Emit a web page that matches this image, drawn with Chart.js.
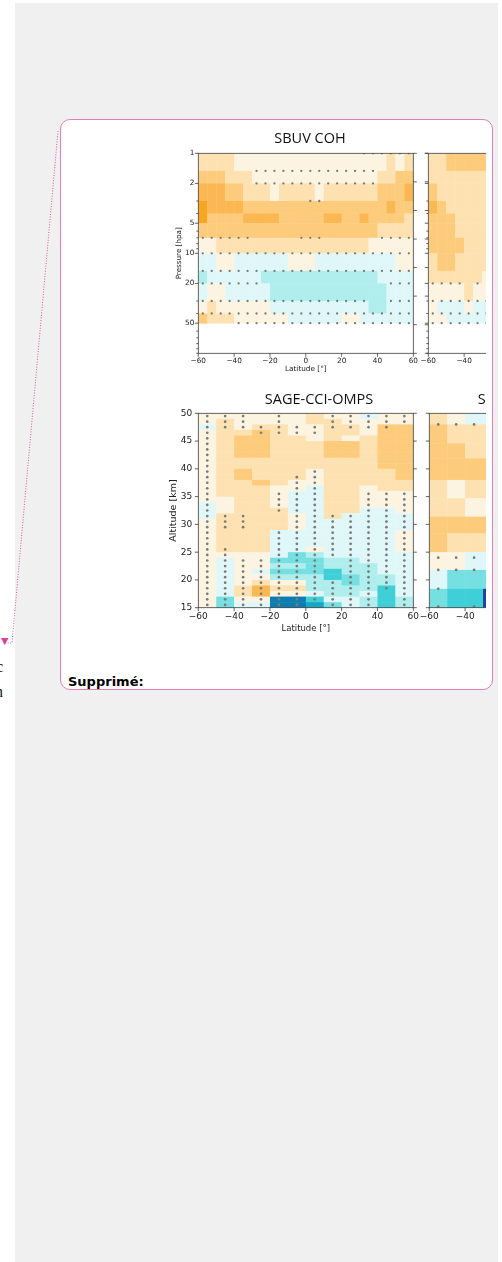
<!DOCTYPE html>
<html lang="fr">
<head>
<meta charset="utf-8">
<script src="https://cdn.jsdelivr.net/npm/chart.js@4.4.1/dist/chart.umd.min.js"></script>
<style>
  html, body { margin:0; padding:0; background:#fff; }
  body { width:502px; height:1262px; position:relative; overflow:hidden; }
  #sheet { position:absolute; left:15px; top:3px; width:483px; height:1259px; background:#f0f0f0; }
  #link { position:absolute; left:0; top:0; }
  .frag { position:absolute; font:16px/16px 'Liberation Serif', serif; color:#111; }
  #note { position:absolute; left:60px; top:119px; width:433px; height:571px; box-sizing:border-box;
          border:1px solid #e67cb8; border-radius:10px; background:#fff; overflow:hidden; }
  #figure { position:absolute; left:0; top:0; width:425px; height:540px; overflow:hidden; }
  #figure canvas { position:absolute; }
  #label { position:absolute; left:7px; top:555px; font:bold 13px/13px 'DejaVu Sans', sans-serif; color:#000; white-space:nowrap; }
</style>
</head>
<body>
<div id="sheet"></div>
<svg id="link" width="502" height="700">
  <polyline points="58,131 12,643 3,643" fill="none" stroke="#e0559f" stroke-width="1" stroke-dasharray="1 1.6"/>
  <polygon points="1,638 8.5,638 4.7,645" fill="#d8439a"/>
</svg>
<span class="frag" style="left:-4px;top:659px">c</span>
<span class="frag" style="left:-5px;top:684px">n</span>
<div id="note">
  <div id="figure">
    <canvas id="sbuv" width="300" height="252" style="left:99px;top:5px"></canvas>
    <canvas id="sbuvRight" width="250" height="252" style="left:344px;top:5px"></canvas>
    <canvas id="sage" width="318" height="255" style="left:99px;top:265px"></canvas>
    <canvas id="sageRight" width="254" height="255" style="left:344px;top:265px"></canvas>
  </div>
  <div id="label">Supprimé:</div>
</div>
<script>
// ---------- shared axes ----------
const latTicks = [-60, -40, -20, 0, 20, 40, 60];
const pressureTicks = [1, 2, 5, 10, 20, 50];
const pressureMinorTicks = [3, 4, 6, 7, 8, 9, 30, 40, 60, 70, 80, 90, 100];
const altitudeTicksHpa = [1, 1.93, 3.73, 7.2, 13.9, 26.8, 51.8, 100];
const altitudeTicks = [15, 20, 25, 30, 35, 40, 45, 50];

// ---------- SBUV COH: trend per pressure layer (rows) and 5° latitude bin (columns), %/decade ----------
const sbuvLatEdges = [-60,-55,-50,-45,-40,-35,-30,-25,-20,-15,-10,-5,0,5,10,15,20,25,30,35,40,45,50,55,60];
const sbuvLevels = [1, 1.5, 2, 3, 4, 5, 7, 10, 15, 20, 30, 40, 50];
const sbuvTrend = [
  [.8,.8,.8,.8,.3,.3,.3,.3,.3,.3,.3,.3,.3,.3,.3,.3,.3,.3,.3,.3,.3,.8,.3,.8],
  [1.3,1.3,1.3,.8,.8,.8,.3,.3,.3,.3,.3,.3,.3,.3,.3,.3,.3,.3,.3,.3,.8,.8,1.3,1.3],
  [1.8,1.8,1.8,1.3,1.3,.8,.8,.8,.3,.8,.8,.8,.8,.3,.8,.8,.8,.8,.8,.8,1.3,1.3,1.3,1.8],
  [2.3,1.8,1.8,1.8,1.8,1.3,1.3,1.3,1.3,1.3,1.3,1.3,1.3,1.3,1.3,1.3,1.3,1.3,1.3,1.3,1.3,1.8,1.3,1.3],
  [2.3,1.3,1.3,1.3,1.3,1.8,1.8,1.8,1.8,1.3,1.3,1.3,1.3,1.3,1.8,1.8,1.3,1.3,1.8,1.3,1.3,1.3,1.3,.8],
  [1.3,1.3,1.3,1.3,1.3,1.3,1.3,1.3,1.3,1.3,1.3,1.3,1.3,1.3,1.3,1.3,1.3,1.3,1.3,1.3,.8,.8,.8,.8],
  [.3,.3,.8,.8,.8,.8,.8,.8,.8,.8,.8,.8,.8,.8,.8,.8,.8,.8,.8,.3,.3,.3,.3,.3],
  [-.3,-.3,.3,.3,-.3,-.3,-.3,-.3,-.3,-.3,.3,.3,.3,-.3,-.3,-.3,-.3,-.3,-.3,-.3,-.3,-.3,.3,.3],
  [-.8,-.3,-.3,-.3,-.3,-.3,-.3,-.8,-.8,-.8,-.8,-.8,-.8,-.8,-.8,-.8,-.8,-.8,-.8,-.8,-.3,-.3,-.3,-.3],
  [-.3,.3,.3,-.3,-.3,-.3,-.3,-.3,-.8,-.8,-.8,-.8,-.8,-.8,-.8,-.8,-.8,-.8,-.8,-.8,-.8,-.3,-.3,-.3],
  [.3,.8,.3,.3,.3,.3,.3,.3,-.3,-.3,-.3,-.3,-.3,-.3,-.3,-.3,-.3,-.3,-.3,-.8,-.8,-.3,-.3,-.3],
  [1.3,.8,.8,.8,.3,.3,.3,.3,.3,.3,-.3,-.3,-.3,-.3,-.3,-.3,.3,.3,-.3,-.3,-.3,-.3,-.3,-.3]
];
// significant bins on each pressure level, as ranges of bin-centre latitudes
const sbuvSignificant = [
  [[32.5, 57.5]],
  [[-27.5, 37.5]],
  [[-27.5, 37.5]],
  [[2.5, 7.5]],
  [],
  [],
  [[-57.5, -32.5], [-2.5, 7.5], [42.5, 57.5]],
  [[-57.5, 57.5]],
  [[-57.5, 57.5]],
  [[-57.5, -27.5], [47.5, 57.5]],
  [[-57.5, 32.5], [47.5, 57.5]],
  [[-57.5, 57.5]],
  [[-37.5, 57.5]]
];

// ---------- neighbouring pressure-level panel (southern bins) ----------
const sbuv2LatEdges = [-60,-55,-50,-45,-40,-35,-30,-25];
const sbuv2Trend = [
  [.8,.8,1.3,1.3,1.3,1.3,1.3],
  [.8,.8,.8,.8,.8,.8,.8],
  [1.3,.8,.8,.8,.8,.8,.8],
  [1.8,1.3,.8,.8,.8,.8,.8],
  [1.3,1.3,1.3,.8,.8,.8,.8],
  [1.3,1.3,1.3,.8,.8,.8,.8],
  [1.3,1.3,1.3,1.3,.8,.8,.8],
  [.8,1.3,1.3,.8,.8,.8,.8],
  [.8,.8,.8,.8,.8,.8,.3],
  [.3,.3,.3,.3,.8,.3,.3],
  [.3,-.3,-.3,-.3,.3,-.3,-.3],
  [.3,.3,-.3,-.3,-.3,-.3,-.3]
];
const sbuv2Significant = [
  [], [], [], [], [], [], [], [], [],
  [[-57.5, -42.5], [-32.5, -32.5]],
  [[-57.5, -27.5]],
  [[-57.5, -27.5]],
  [[-57.5, -27.5]]
];

// ---------- SAGE-CCI-OMPS: one altitude profile (49.5 km down to 15.5 km) per 10° latitude bin ----------
const sageLatEdges = [-60,-50,-40,-30,-20,-10,0,10,20,30,40,50,60];
const sageAltEdges = [50,49,48,47,46,45,44,43,42,41,40,39,38,37,36,35,34,33,32,31,30,29,28,27,26,25,24,23,22,21,20,19,18,17,16,15];
const sageProfiles = [
  [.3,.3,-.3,.3,.3, .3,.3,.3,.3,.3, .3,.3,.3,.3,.3, .3,-.3,-.3,-.3,.3, .3,.3,.3,.3,.3, .3,.3,.3,.3,.3, .3,.3,.3,.3,.3],
  [.3,.8,.8,.8,.8, .8,.8,.8,.8,.8, .8,.8,.8,.8,.8, .3,.3,.3,.8,.8, .8,.8,.8,.8,.8, .3,-.3,-.3,-.3,-.3, -.3,-.3,-.3,-1.3,-1.3],
  [.3,.3,.3,.8,1.3, 1.3,1.3,1.3,.8,.8, 1.3,1.3,.8,.8,.8, .8,.8,.8,.8,.8, .8,.8,.8,.8,.8, .3,.3,.3,.3,.3, .3,.8,.8,.3,-.3],
  [.3,.3,.8,1.3,1.3, 1.3,1.3,1.3,.8,.8, .8,.8,1.3,.8,.8, .8,.8,.8,.8,.8, .8,.8,.8,.8,.8, .3,.3,.3,-.3,.3, .8,1.8,1.8,.3,-.3],
  [.3,.3,.8,.8,.8, .8,.8,.8,.8,.8, .8,.8,.8,.3,.3, .3,.3,.8,.8,.8, .8,-.3,-.3,-.3,-.3, -.3,-1.3,-.8,-1.3,-.8, .3,.8,.3,-2.8,-2.8],
  [.3,.3,.3,.3,.8, .8,.8,.8,.8,.8, .8,.8,.3,.3,-.3, -.3,-.3,-.3,.3,.3, .3,-.3,-.3,-.3,-.3, -1.3,-1.3,-.8,-1.3,-.8, .3,.8,.3,-2.8,-2.8],
  [.8,.8,.3,.3,.3, .8,.8,.8,.8,.8, .3,.3,.3,-.3,-.3, -.3,-.3,-.3,-.3,-.3, -.3,-.3,-.3,-.3,.3, -.8,-1.3,-1.3,-1.3,-.8, -.8,-.8,-.3,-1.8,-2.3],
  [.3,.8,.8,.8,.8, 1.3,1.3,1.3,.8,.8, .8,.8,.8,.8,.8, .8,.8,.8,.8,-.3, -.3,-.3,-.3,-.3,-.3, -.3,-.8,-.8,-1.8,-1.8, -.8,-.8,-.8,-.3,-1.3],
  [.3,.3,.8,.8,.3, 1.3,1.3,1.3,.8,.8, .8,.8,.8,.8,.8, .8,.8,.8,-.3,-.3, -.3,-.3,-.3,-.3,-.3, -.3,-.8,-.8,-.8,-1.3, -1.3,-.8,-.8,-.3,-.3],
  [-.3,.3,.3,.3,.8, .8,.8,.8,.8,.8, .8,.8,.8,.3,.3, .3,.3,-.3,-.3,-.3, -.3,-.3,-.3,-.3,-.3, -.3,-.3,-.8,-.8,-.8, -.8,-.8,-.3,-.8,-.8],
  [.3,.3,1.3,1.3,1.3, 1.3,1.3,1.3,1.3,1.3, .8,.8,.8,.8,.3, .3,.3,-.3,-.3,-.3, -.3,-.3,-.3,-.3,-.3, -.3,-.3,-.3,-.3,-.8, -.8,-1.8,-1.8,-1.8,-1.8],
  [.3,.3,1.3,1.3,1.3, 1.3,1.3,1.3,1.3,1.3, 1.3,1.3,.8,.8,.3, .3,.3,.3,-.3,-.3, -.3,.3,.3,.3,.3, -.3,-.3,-.3,-.3,-.3, -.3,-.3,-.3,-.8,-.8]
];
// significant cells of each profile, as ranges of cell-centre altitudes (km)
const sageSignificant = [
  [[15.5, 49.5]],
  [[47.5, 49.5], [29.5, 31.5], [15.5, 25.5]],
  [[47.5, 49.5], [29.5, 31.5], [15.5, 23.5]],
  [[46.5, 47.5], [15.5, 23.5]],
  [[46.5, 49.5], [32.5, 35.5], [15.5, 28.5]],
  [[46.5, 47.5], [15.5, 38.5]],
  [[46.5, 47.5], [16.5, 39.5]],
  [[47.5, 49.5], [24.5, 31.5], [15.5, 19.5]],
  [[47.5, 49.5], [15.5, 31.5]],
  [[47.5, 49.5], [15.5, 35.5]],
  [[47.5, 49.5], [18.5, 35.5]],
  [[48.5, 49.5], [15.5, 35.5]]
];

// ---------- neighbouring altitude panel (southern bins) ----------
const sage2LatEdges = [-60, -50, -40, -30, -20];
const sage2AltEdges = [50, 48, 44.6, 41.9, 38, 34.7, 31.4, 28.4, 25, 21.8, 18.4, 15];
const sage2Trend = [
  [.8, .3, -.3, -.3],
  [1.3, .8, .8, .8],
  [1.3, 1.3, .8, .8],
  [1.3, 1.3, 1.3, 1.3],
  [.8, .3, .8, .8],
  [.8, .8, .3, .3],
  [1.3, 1.3, 1.3, 1.3],
  [1.3, .8, .8, .8],
  [.3, .3, -.3, -.3],
  [-.3, -1.3, -1.3, -1.3],
  [-1.3, -1.8, -1.8, -3.3]
];
const sage2DotAlts = [48, 24, 21.8, 18.4, 15.2];
const sage2DotLats = [[-55, -45, -35], [-55, -45, -35], [-55, -45, -35], [-55], [-55, -35]];

// ---------- diverging colour scale (%/decade) ----------
const trendBounds = [-3, -2.5, -2, -1.5, -1, -0.5, 0, 0.5, 1, 1.5, 2];
const trendColors = ['#22429f','#0b7db0','#17a6c6','#3ecfd7','#76dfe2','#b0eded','#e0f7f9',
                     '#fdf3e1','#fde1b1','#fdcb7c','#fbb752','#f8a520'];
function trendColor(v) {
  let i = 0;
  while (i < trendBounds.length && v >= trendBounds[i]) i++;
  return trendColors[i];
}

// ---------- builders ----------
function gridCells(latEdges, yEdges, rowValue) {
  const cells = [];
  for (let r = 0; r < yEdges.length - 1; r++) {
    for (let c = 0; c < latEdges.length - 1; c++) {
      cells.push({ x0: latEdges[c], x1: latEdges[c + 1], y0: yEdges[r], y1: yEdges[r + 1], v: rowValue(r, c) });
    }
  }
  return cells;
}
function levelDots(latEdges, levels, ranges) {
  const pts = [];
  ranges.forEach((list, i) => {
    for (let c = 0; c < latEdges.length - 1; c++) {
      const lat = (latEdges[c] + latEdges[c + 1]) / 2;
      if (list.some(([a, b]) => lat >= a - 0.01 && lat <= b + 0.01)) pts.push({ x: lat, y: levels[i] });
    }
  });
  return pts;
}
function profileDots(latEdges, altEdges, ranges) {
  const pts = [];
  ranges.forEach((list, c) => {
    const lat = (latEdges[c] + latEdges[c + 1]) / 2;
    for (let r = 0; r < altEdges.length - 1; r++) {
      const alt = (altEdges[r] + altEdges[r + 1]) / 2;
      if (list.some(([a, b]) => alt >= a - 0.01 && alt <= b + 0.01)) pts.push({ x: lat, y: alt });
    }
  });
  return pts;
}
const fmtLat = v => (v < 0 ? '\u2212' + Math.abs(v) : String(v));

// ---------- plugins ----------
const heatmap = {
  id: 'heatmap',
  beforeDatasetsDraw(chart, args, opts) {
    const { ctx, chartArea: a, scales: { x, y } } = chart;
    ctx.save();
    ctx.beginPath();
    ctx.rect(a.left, a.top, a.right - a.left, a.bottom - a.top);
    ctx.clip();
    for (const c of opts.cells) {
      const px0 = x.getPixelForValue(c.x0), px1 = x.getPixelForValue(c.x1);
      const py0 = y.getPixelForValue(c.y0), py1 = y.getPixelForValue(c.y1);
      ctx.fillStyle = trendColor(c.v);
      ctx.fillRect(Math.min(px0, px1), Math.min(py0, py1), Math.abs(px1 - px0) + 0.4, Math.abs(py1 - py0) + 0.4);
    }
    ctx.restore();
  }
};
const frame = {
  id: 'frame',
  afterDatasetsDraw(chart, args, o) {
    const { ctx, chartArea: a, scales: { x, y } } = chart;
    ctx.save();
    ctx.strokeStyle = '#3c3c3c';
    ctx.lineWidth = 0.8;
    ctx.strokeRect(a.left, a.top, a.right - a.left, a.bottom - a.top);
    ctx.beginPath();
    (o.left || []).forEach(([vals, len]) => vals.forEach(v => {
      const p = y.getPixelForValue(v); ctx.moveTo(a.left - len, p); ctx.lineTo(a.left, p);
    }));
    (o.right || []).forEach(([vals, len]) => vals.forEach(v => {
      const p = y.getPixelForValue(v); ctx.moveTo(a.right, p); ctx.lineTo(a.right + len, p);
    }));
    (o.bottom || []).forEach(([vals, len]) => vals.forEach(v => {
      const p = x.getPixelForValue(v); ctx.moveTo(p, a.bottom); ctx.lineTo(p, a.bottom + len);
    }));
    ctx.stroke();
    ctx.restore();
  }
};

Chart.defaults.font.family = 'DejaVu Sans';

function panel(id, p) {
  const tickFont = { family: 'DejaVu Sans', size: p.tickSize };
  const labelFont = { family: 'DejaVu Sans', size: p.labelSize };
  const yScale = p.log ? {
    type: 'logarithmic', reverse: true, min: 1, max: 100,
    afterBuildTicks: s => { s.ticks = pressureTicks.map(v => ({ value: v })); },
    ticks: { display: p.yLabels, font: tickFont, color: '#222', padding: p.yPad, autoSkip: false, callback: v => String(v) },
    title: { display: p.yLabels, text: 'Pressure [hpa]', font: { family: 'DejaVu Sans', size: p.yTitleSize }, color: '#222', padding: { top: p.yTitlePad, bottom: 0 } }
  } : {
    type: 'linear', min: 15, max: 50,
    afterBuildTicks: s => { s.ticks = altitudeTicks.map(v => ({ value: v })); },
    ticks: { display: p.yLabels, font: tickFont, color: '#222', padding: p.yPad, autoSkip: false },
    title: { display: p.yLabels, text: 'Altitude [km]', font: { family: 'DejaVu Sans', size: p.yTitleSize }, color: '#222', padding: { top: p.yTitlePad, bottom: 0 } }
  };
  Object.assign(yScale, {
    afterFit: s => { s.width = p.yWidth; },
    grid: { display: false, drawTicks: false },
    border: { display: false }
  });
  return new Chart(document.getElementById(id), {
    type: 'scatter',
    data: { datasets: [{ data: p.dots, pointRadius: p.dotRadius, pointHoverRadius: 0,
                         pointBackgroundColor: '#7a7a7a', pointBorderWidth: 0 }] },
    options: {
      responsive: false, animation: false, events: [], devicePixelRatio: 1,
      layout: { padding: { left: 0, top: p.padTop, right: 0, bottom: 0 } },
      plugins: {
        legend: { display: false },
        tooltip: { enabled: false },
        title: p.title ? {
          display: true, text: p.title, fullSize: true, color: '#111',
          font: { family: 'Open Sans', size: 14.5, weight: 'normal', lineHeight: 1.2 },
          padding: { top: p.titleTop, bottom: p.titleBottom }
        } : { display: false },
        heatmap: { cells: p.cells },
        frame: p.frame
      },
      scales: {
        x: {
          type: 'linear', min: -60, max: 60,
          afterBuildTicks: s => { s.ticks = latTicks.map(v => ({ value: v })); },
          afterFit: s => { s.height = p.xHeight; },
          grid: { display: false, drawTicks: false },
          border: { display: false },
          ticks: { font: tickFont, color: '#222', padding: p.xPad, maxRotation: 0, autoSkip: false, callback: fmtLat },
          title: { display: true, text: 'Latitude [°]', font: labelFont, color: '#222', padding: { top: 0, bottom: p.xTitlePad } }
        },
        y: yScale,
        // empty right-hand margin (keeps the title centred on the whole canvas)
        margin: {
          type: 'linear', position: 'right', display: true,
          afterFit: s => { s.width = p.gap; },
          ticks: { display: false }, grid: { display: false, drawTicks: false }, border: { display: false }
        }
      }
    },
    plugins: [heatmap, frame]
  });
}

// SBUV COH
panel('sbuv', {
  log: true, title: 'SBUV COH', titleTop: 5.3, titleBottom: 5.6, padTop: 0, gap: 46.7,
  yWidth: 38.3, xHeight: 23.7, yLabels: true, tickSize: 7.3, labelSize: 7.3, yTitleSize: 7.2,
  yPad: 4, xPad: 3, xTitlePad: 3.3, yTitlePad: 14.6, dotRadius: 1.15,
  cells: gridCells(sbuvLatEdges, sbuvLevels, (r, c) => sbuvTrend[r][c]),
  dots: levelDots(sbuvLatEdges, sbuvLevels, sbuvSignificant),
  frame: { left: [[pressureTicks, 3.5], [pressureMinorTicks, 2]], right: [[altitudeTicksHpa, 3.5]], bottom: [[latTicks, 3.5]] }
});
panel('sbuvRight', {
  log: true, title: null, padTop: 28.3, gap: 11.7,
  yWidth: 23.3, xHeight: 23.7, yLabels: false, tickSize: 7.3, labelSize: 7.3, yTitleSize: 7.2,
  yPad: 4, xPad: 3, xTitlePad: 3.3, yTitlePad: 0, dotRadius: 1.15,
  cells: gridCells(sbuv2LatEdges, sbuvLevels, (r, c) => sbuv2Trend[r][c]),
  dots: levelDots(sbuv2LatEdges, sbuvLevels, sbuv2Significant),
  frame: { left: [[pressureTicks, 3.5], [pressureMinorTicks, 2], [altitudeTicksHpa, 3.5]], bottom: [[latTicks, 3.5]] }
});
// SAGE-CCI-OMPS
panel('sage', {
  log: false, title: 'SAGE-CCI-OMPS', titleTop: 6.3, titleBottom: 4.6, padTop: 0, gap: 64.7,
  yWidth: 38.3, xHeight: 32.3, yLabels: true, tickSize: 9, labelSize: 8.5, yTitleSize: 9.5,
  yPad: 6, xPad: 4, xTitlePad: 6.6, yTitlePad: 8.3, dotRadius: 1.35,
  cells: gridCells(sageLatEdges, sageAltEdges, (r, c) => sageProfiles[c][r]),
  dots: profileDots(sageLatEdges, sageAltEdges, sageSignificant),
  frame: { left: [[altitudeTicks, 3.5]], right: [[altitudeTicks, 3.5]], bottom: [[latTicks, 3.5]] }
});
panel('sageRight', {
  log: false, title: 'SAGE-CCI-OMPS', titleTop: 6.3, titleBottom: 4.6, padTop: 0, gap: 14.7,
  yWidth: 24.3, xHeight: 32.3, yLabels: false, tickSize: 9, labelSize: 8.5, yTitleSize: 9.5,
  yPad: 6, xPad: 4, xTitlePad: 6.6, yTitlePad: 0, dotRadius: 1.35,
  cells: gridCells(sage2LatEdges, sage2AltEdges, (r, c) => sage2Trend[r][c]),
  dots: sage2DotAlts.flatMap((alt, i) => sage2DotLats[i].map(lat => ({ x: lat, y: alt }))),
  frame: { left: [[altitudeTicks, 3.5]], bottom: [[latTicks, 3.5]] }
});
</script>
</body>
</html>
